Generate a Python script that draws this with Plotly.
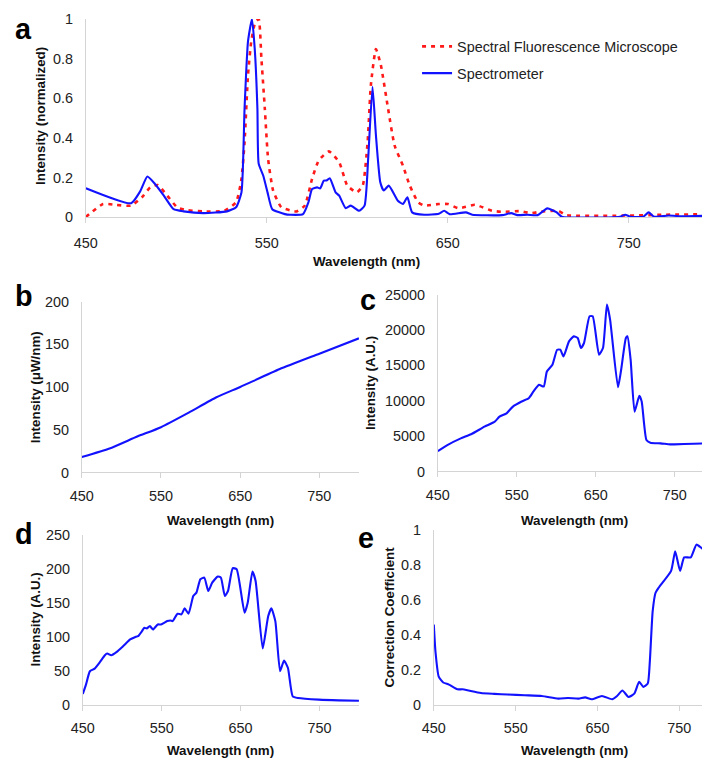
import plotly.graph_objects as go

# ---------------- data ----------------
# Panel a: normalized spectra
a_spec_wl = [450, 475, 480, 484, 488, 493, 498.5, 504, 515, 528, 533, 536, 537.7, 539.6, 541.8,
             543.3, 544.8, 545.5, 548, 550.4, 553, 560, 563, 570, 573, 575, 577.8, 579.5, 581.5,
             583, 584.8, 588, 590, 593.6, 596.4, 601, 604, 606, 608.4, 610.3, 612.7, 614.6, 617.4,
             622.4, 625.2, 627.7, 630.3, 637, 645, 648, 651, 660, 663.5, 680, 685, 688.5, 694,
             699.7, 705, 710, 713, 745, 748, 751, 758, 761, 764, 772, 780, 796]
a_spec_val = [0.146, 0.07, 0.13, 0.205, 0.17, 0.11, 0.04, 0.029, 0.02, 0.029, 0.05, 0.125, 0.548,
              0.887, 1.0, 0.853, 0.548, 0.27, 0.21, 0.125, 0.04, 0.015, 0.012, 0.015, 0.075, 0.142,
              0.15, 0.145, 0.184, 0.185, 0.196, 0.125, 0.108, 0.045, 0.058, 0.032, 0.058, 0.294,
              0.658, 0.413, 0.176, 0.134, 0.159, 0.083, 0.066, 0.1, 0.024, 0.012, 0.017, 0.032,
              0.015, 0.024, 0.012, 0.01, 0.02, 0.01, 0.012, 0.01, 0.044, 0.025, 0.002, 0.002,
              0.012, 0.002, 0.002, 0.024, 0.002, 0.008, 0.004, 0.008]

a_micro_wl = [450, 459.5, 466.5, 475, 481, 485.6, 489.7, 495, 500.5, 506, 515, 526.5, 533, 536,
              537.7, 539.6, 541.4, 543.5, 545.5, 547, 548.9, 550.7, 553.5, 558, 564, 566.6, 571,
              575, 578.7, 584.3, 590, 594.5, 599.7, 603, 605.7, 607.5, 610.3, 613, 617, 620.6,
              625.2, 629, 633.6, 637, 645, 650, 656, 665, 674.5, 680, 690, 696, 701, 711, 715.5,
              750, 770, 796]
a_micro_val = [0.0, 0.066, 0.062, 0.058, 0.1, 0.15, 0.162, 0.108, 0.049, 0.035, 0.029, 0.032,
               0.075, 0.193, 0.379, 0.717, 0.887, 0.98, 1.0, 0.802, 0.548, 0.294, 0.134, 0.05,
               0.032, 0.029, 0.058, 0.193, 0.286, 0.332, 0.277, 0.159, 0.125, 0.159, 0.379, 0.667,
               0.848, 0.768, 0.548, 0.362, 0.26, 0.159, 0.075, 0.058, 0.066, 0.066, 0.045, 0.062,
               0.032, 0.027, 0.03, 0.02, 0.027, 0.032, 0.01, 0.008, 0.012, 0.015]

# Panel b: lamp intensity (uW/nm)
b_wl = [450, 485, 520, 550, 585, 620, 650, 700, 750, 800]
b_val = [18, 28, 42, 53, 70, 88, 100, 121, 139, 157]

# Panel c: measured intensity (A.U.)
c_wl = [450, 462, 479, 492, 509, 522, 528, 537, 545, 556, 565, 571, 578, 584, 588, 595, 601,
        605, 609, 616, 622, 627, 631, 635, 642, 646, 654, 659, 664, 668, 678, 682, 688, 690, 694,
        699, 705, 708, 714, 719, 732, 744, 749, 774, 798]
c_val = [2880, 3730, 4680, 5250, 6330, 7040, 7750, 8220, 9170, 9880, 10350, 11300, 12240, 12000,
         14130, 15080, 17200, 17200, 16260, 18380, 19090, 18860, 17440, 18150, 21930, 21930,
         16490, 17440, 23580, 21460, 11900, 14370, 18860, 19090, 15790, 8460, 10680, 9880, 4440,
         4070, 3970, 3830, 3830, 3920, 3970]

# Panel d: intensity (A.U.)
d_wl = [450, 454, 459, 465, 471, 478, 481, 486, 493, 501, 510, 516, 520, 525, 528, 531, 535,
        539, 545, 549, 557, 561, 564, 570, 575, 579, 584, 590, 594, 599, 604, 609, 614, 621, 625,
        630, 634, 640, 645, 655, 659, 665, 669, 678, 685, 689, 694, 700, 705, 710, 716, 723, 749,
        774, 800]
d_val = [15.7, 29.5, 49.2, 53.1, 61.5, 72.8, 75.3, 72.8, 77.8, 86.1, 96, 99.4, 100.9, 108.3,
         113.2, 112.2, 115.6, 110.7, 118.1, 118.1, 123, 124, 123, 133.9, 132.9, 141.7, 133.9,
         160, 164.9, 184.5, 187, 167.3, 179.6, 188.5, 187, 160, 167.3, 200.8, 199.3, 135.3, 150,
         195.9, 182, 82.7, 130.4, 141.7, 123, 49.2, 65, 54, 12.3, 9.8, 7.4, 6.4, 5.9]

# Panel e: correction coefficient
e_wl = [450, 452, 456, 461.5, 468.5, 478.8, 485, 491, 507.5, 524, 540.4, 561, 582, 602, 614,
        627, 635, 643, 655.5, 668, 674, 680.5, 688, 695, 701, 706, 711.5, 714, 717.5, 721, 725,
        740, 745, 751, 756, 764, 771, 779, 785, 789]
e_val = [0.458, 0.304, 0.16, 0.127, 0.115, 0.088, 0.088, 0.083, 0.067, 0.062, 0.058, 0.054, 0.05,
         0.035, 0.038, 0.035, 0.042, 0.031, 0.05, 0.031, 0.05, 0.081, 0.044, 0.063, 0.131, 0.102,
         0.121, 0.246, 0.535, 0.64, 0.67, 0.765, 0.877, 0.765, 0.842, 0.842, 0.915, 0.89, 0.885,
         0.958]

xticks = [450, 550, 650, 750]

# ---------------- figure ----------------
# The page is photographed with a small inset, so positions are given in
# target-picture pixels and converted to page pixels.
W, H = 712, 768
OFF = 10.0
SX = 692.0 / 712.0
SY = 748.0 / 768.0
K = 1.0 / SX  # font / size compensation

BLUE = "#1212ff"
RED = "#ff1a1a"
AXC = "#d4d4d4"
FONT = "Liberation Sans, Arial, sans-serif"


def fx(r):
    return min(1.0, max(0.0, (r - OFF) / SX / W))


def fy(r):
    return min(1.0, max(0.0, 1 - (r - OFF) / SY / H))


fig = go.Figure()

panels = [
    # axis suffix, left, right, top, bottom (target px), x range, y range, dtick, format, label standoff
    ("", 83, 702, 21, 218, [450, 796], [0, 1], 0.2, None, 8),
    ("2", 79, 353, 302, 472, [450, 800], [0, 200], 50, None, 5),
    ("3", 431, 702, 295, 471, [450, 797], [0, 25000], 5000, "d", 5),
    ("4", 80, 353, 534, 703, [450, 800], [0, 250], 50, None, 5),
    ("5", 427, 702, 529, 703, [450, 790], [0, 1], 0.2, None, 5),
]

TF = dict(family=FONT, size=14 * K, color="#222")
layout_axes = {}
for name, xl, xr, yt, yb, xr_, yr_, dt, fmt, so in panels:
    layout_axes["xaxis" + name] = dict(
        domain=[fx(xl), fx(xr)], range=xr_, tickvals=xticks,
        showline=True, linecolor=AXC, linewidth=1, showgrid=False, zeroline=False,
        ticks="outside", ticklen=5, tickcolor=AXC, ticklabelstandoff=so,
        tickfont=TF, anchor="y" + name,
    )
    yax = dict(
        domain=[fy(yb), fy(yt)], range=yr_, dtick=dt,
        showline=True, linecolor=AXC, linewidth=1, showgrid=False, zeroline=False,
        ticks="", ticklabelstandoff=9, tickfont=TF, anchor="x" + name,
    )
    if fmt:
        yax["tickformat"] = fmt
    layout_axes["yaxis" + name] = yax

fig.add_trace(go.Scatter(x=a_micro_wl, y=a_micro_val, mode="lines",
                         name="Spectral Fluorescence Microscope", legendgroup="m",
                         line=dict(color=RED, width=2.6, dash="4px,5px", shape="spline", smoothing=0.5),
                         xaxis="x", yaxis="y"))
fig.add_trace(go.Scatter(x=a_spec_wl, y=a_spec_val, mode="lines", name="Spectrometer",
                         legendgroup="s",
                         line=dict(color=BLUE, width=2.1, shape="spline", smoothing=0.5),
                         xaxis="x", yaxis="y"))
for xs, ys, ax in [(b_wl, b_val, "2"), (c_wl, c_val, "3"), (d_wl, d_val, "4"), (e_wl, e_val, "5")]:
    fig.add_trace(go.Scatter(x=xs, y=ys, mode="lines", showlegend=False,
                             line=dict(color=BLUE, width=2.1, shape="spline", smoothing=0.5),
                             xaxis="x" + ax, yaxis="y" + ax))

ann = []
for txt, x, y in [("a", 11, 13), ("b", 11, 279), ("c", 352, 283), ("d", 11, 515), ("e", 350, 519)]:
    ann.append(dict(text="<b>%s</b>" % txt, x=fx(x), y=fy(y), xref="paper", yref="paper",
                    xanchor="left", yanchor="top", showarrow=False,
                    font=dict(family=FONT, size=28 * K, color="#000")))
for x, y in [(360, 262), (216, 520), (566, 520), (216, 749), (566, 749)]:
    ann.append(dict(text="<b>Wavelength (nm)</b>", x=fx(x), y=fy(y), xref="paper",
                    yref="paper", xanchor="center", yanchor="middle", showarrow=False,
                    font=dict(family=FONT, size=13 * K, color="#111")))
for txt, x, y in [("Intensity (normalized)", 38, 117), ("Intensity (\u03bcW/nm)", 33, 387),
                  ("Intensity (A.U.)", 365, 383), ("Intensity (A.U.)", 33, 618),
                  ("Correction Coefficient", 383, 616)]:
    ann.append(dict(text="<b>%s</b>" % txt, x=fx(x), y=fy(y), xref="paper", yref="paper",
                    xanchor="center", yanchor="middle", showarrow=False, textangle=-90,
                    font=dict(family=FONT, size=13 * K, color="#111")))

fig.update_layout(
    width=W, height=H, margin=dict(l=0, r=0, t=0, b=0),
    paper_bgcolor="white", plot_bgcolor="white",
    annotations=ann,
    legend=dict(x=412 / W, y=1 - 23 / H, xanchor="left", yanchor="top",
                font=dict(family=FONT, size=14 * K, color="#222"), bgcolor="rgba(0,0,0,0)",
                traceorder="grouped", tracegroupgap=5, itemwidth=30),
    **layout_axes,
)

fig.write_html("out.html", config=dict(displayModeBar=False),
               post_script="document.body.style.margin='0';document.body.style.overflow='hidden';")
